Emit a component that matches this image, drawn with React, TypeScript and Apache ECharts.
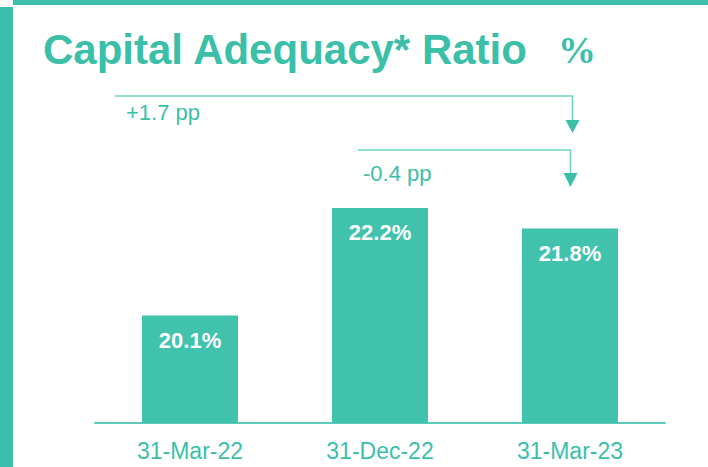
import React, { useEffect, useRef } from "react";
import * as echarts from "echarts";

const categories = ["31-Mar-22", "31-Dec-22", "31-Mar-23"];
const ratioValues = [20.1, 22.2, 21.8];
const valueLabels = ["20.1%", "22.2%", "21.8%"];
const changeLabels = ["+1.7 pp", "-0.4 pp"];
const titleText = "Capital Adequacy* Ratio";
const unitText = "%";

const TEAL = "#41C2AC";
const TEXT_TEAL = "#3BBFA8";
const LINE_TEAL = "#6CD3C3";

export default function App() {
  const ref = useRef<HTMLDivElement>(null);

  useEffect(() => {
    if (!ref.current) return;
    const chart = echarts.init(ref.current, null, { renderer: "svg" });
    const option: any = {
      animation: false,
      backgroundColor: "#ffffff",
      grid: { left: 95, right: 43, top: 167, bottom: 44, containLabel: false },
      xAxis: {
        type: "category",
        data: categories,
        axisLine: { show: true, lineStyle: { color: "#5CCBB9", width: 2 } },
        axisTick: { show: false },
        axisLabel: {
          color: TEXT_TEAL,
          fontSize: 23,
          fontFamily: "Liberation Sans, Arial, sans-serif",
          margin: 16,
        },
      },
      yAxis: {
        type: "value",
        min: 18,
        max: 23,
        show: false,
        splitLine: { show: false },
      },
      series: [
        {
          type: "bar",
          data: ratioValues.map((v, i) => ({ value: v, label: { formatter: valueLabels[i] } })),
          barWidth: 96,
          itemStyle: { color: TEAL },
          label: {
            show: true,
            position: "insideTop",
            distance: 14,
            color: "#ffffff",
            fontSize: 22,
            fontWeight: "bold",
            fontFamily: "Liberation Sans, Arial, sans-serif",
          },
        },
      ],
    };
    chart.setOption(option);

    const x3 = chart.convertToPixel({ xAxisIndex: 0 }, categories[2]) as number;
    const xA1 = x3 + 2.5;
    const xA2 = x3 + 0.5;

    chart.setOption({
      graphic: [
        { type: "rect", shape: { x: 13, y: 0, width: 695, height: 5 }, style: { fill: "#3BBFAB" } },
        { type: "rect", shape: { x: 0, y: 7, width: 13, height: 460 }, style: { fill: "#3BBFAB" } },
        {
          type: "text",
          x: 43,
          y: 49,
          style: {
            text: titleText,
            fill: TEXT_TEAL,
            font: "bold 42px 'Liberation Sans', Arial, sans-serif",
            verticalAlign: "middle",
            align: "left",
          },
        },
        {
          type: "text",
          x: 558,
          y: 50,
          style: {
            text: unitText,
            fill: TEXT_TEAL,
            font: "bold 38px 'Liberation Serif', 'Times New Roman', serif",
            verticalAlign: "middle",
            align: "left",
          },
        },
        {
          type: "polyline",
          shape: { points: [[115, 96], [xA1, 96], [xA1, 122]] },
          style: { stroke: LINE_TEAL, lineWidth: 1.5, fill: null },
        },
        {
          type: "polygon",
          shape: { points: [[xA1 - 7, 120], [xA1 + 7, 120], [xA1, 133]] },
          style: { fill: TEXT_TEAL },
        },
        {
          type: "text",
          x: 126,
          y: 112,
          style: {
            text: changeLabels[0],
            fill: TEXT_TEAL,
            font: "22px 'Liberation Sans', Arial, sans-serif",
            verticalAlign: "middle",
            align: "left",
          },
        },
        {
          type: "polyline",
          shape: { points: [[358, 150], [xA2, 150], [xA2, 175]] },
          style: { stroke: LINE_TEAL, lineWidth: 1.5, fill: null },
        },
        {
          type: "polygon",
          shape: { points: [[xA2 - 7, 173], [xA2 + 7, 173], [xA2, 187]] },
          style: { fill: TEXT_TEAL },
        },
        {
          type: "text",
          x: 363,
          y: 173,
          style: {
            text: changeLabels[1],
            fill: TEXT_TEAL,
            font: "22px 'Liberation Sans', Arial, sans-serif",
            verticalAlign: "middle",
            align: "left",
          },
        },
      ],
    });

    return () => chart.dispose();
  }, []);

  return (
    <div
      ref={ref}
      style={{ position: "fixed", left: 0, top: 0, width: 708, height: 467 }}
    />
  );
}
